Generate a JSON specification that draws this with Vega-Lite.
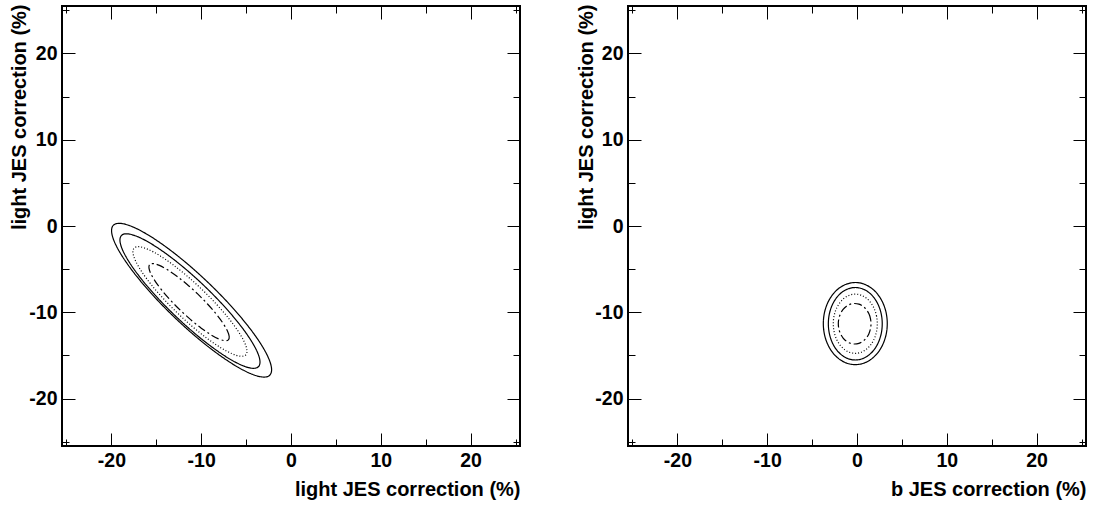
{
"$schema": "https://vega.github.io/schema/vega-lite/v6.json",
"background": "white",
"padding": {"left": 7, "top": 3, "right": 0, "bottom": 0},
"autosize": {"type": "pad"},
"bounds": "flush",
"spacing": 108,
"config": {
  "view": {"stroke": "black", "strokeWidth": 2},
  "axis": {
    "domain": false, "grid": false, "tickColor": "black", "tickWidth": 1,
    "values": [-24,-22,-20,-18,-16,-14,-12,-10,-8,-6,-4,-2,0,2,4,6,8,10,12,14,16,18,20,22,24],
    "tickSize": {"condition": {"test": "datum.value % 10 === 0", "value": -13}, "value": -7},
    "labelExpr": "datum.value % 10 === 0 ? '' + datum.value : ''",
    "labelFont": "Liberation Sans", "labelFontSize": 19.5, "labelFontWeight": "bold", "labelColor": "black",
    "titleFont": "Liberation Sans", "titleFontSize": 20, "titleFontWeight": "bold", "titleColor": "black"
  }
},
"datasets": {
"left": [
{"c":"c1","i":0,"x":-2.373,"y":-17.297},{"c":"c1","i":1,"x":-2.167,"y":-16.497},{"c":"c1","i":2,"x":-2.566,"y":-15.16},{"c":"c1","i":3,"x":-3.545,"y":-13.375},{"c":"c1","i":4,"x":-5.038,"y":-11.265},{"c":"c1","i":5,"x":-6.94,"y":-8.972},{"c":"c1","i":6,"x":-9.125,"y":-6.655},{"c":"c1","i":7,"x":-11.442,"y":-4.47},{"c":"c1","i":8,"x":-13.735,"y":-2.568},{"c":"c1","i":9,"x":-15.845,"y":-1.075},{"c":"c1","i":10,"x":-17.63,"y":-0.096},{"c":"c1","i":11,"x":-18.967,"y":0.303},{"c":"c1","i":12,"x":-19.767,"y":0.097},{"c":"c1","i":13,"x":-19.973,"y":-0.703},{"c":"c1","i":14,"x":-19.575,"y":-2.041},{"c":"c1","i":15,"x":-18.595,"y":-3.825},{"c":"c1","i":16,"x":-17.103,"y":-5.936},{"c":"c1","i":17,"x":-15.2,"y":-8.228},{"c":"c1","i":18,"x":-13.015,"y":-10.545},{"c":"c1","i":19,"x":-10.698,"y":-12.73},{"c":"c1","i":20,"x":-8.406,"y":-14.633},{"c":"c1","i":21,"x":-6.295,"y":-16.125},{"c":"c1","i":22,"x":-4.511,"y":-17.105},{"c":"c1","i":23,"x":-3.173,"y":-17.503},
{"c":"c2","i":0,"x":-3.634,"y":-16.316},{"c":"c2","i":1,"x":-3.46,"y":-15.622},{"c":"c2","i":2,"x":-3.816,"y":-14.458},{"c":"c2","i":3,"x":-4.68,"y":-12.9},{"c":"c2","i":4,"x":-5.991,"y":-11.057},{"c":"c2","i":5,"x":-7.66,"y":-9.052},{"c":"c2","i":6,"x":-9.574,"y":-7.024},{"c":"c2","i":7,"x":-11.602,"y":-5.11},{"c":"c2","i":8,"x":-13.607,"y":-3.441},{"c":"c2","i":9,"x":-15.45,"y":-2.13},{"c":"c2","i":10,"x":-17.008,"y":-1.266},{"c":"c2","i":11,"x":-18.172,"y":-0.91},{"c":"c2","i":12,"x":-18.866,"y":-1.084},{"c":"c2","i":13,"x":-19.04,"y":-1.778},{"c":"c2","i":14,"x":-18.684,"y":-2.942},{"c":"c2","i":15,"x":-17.82,"y":-4.5},{"c":"c2","i":16,"x":-16.509,"y":-6.343},{"c":"c2","i":17,"x":-14.84,"y":-8.348},{"c":"c2","i":18,"x":-12.926,"y":-10.376},{"c":"c2","i":19,"x":-10.898,"y":-12.29},{"c":"c2","i":20,"x":-8.893,"y":-13.959},{"c":"c2","i":21,"x":-7.05,"y":-15.27},{"c":"c2","i":22,"x":-5.492,"y":-16.134},{"c":"c2","i":23,"x":-4.328,"y":-16.49},
{"c":"c3","i":0,"x":-5.049,"y":-14.951},{"c":"c3","i":1,"x":-4.907,"y":-14.387},{"c":"c3","i":2,"x":-5.198,"y":-13.438},{"c":"c3","i":3,"x":-5.9,"y":-12.17},{"c":"c3","i":4,"x":-6.968,"y":-10.669},{"c":"c3","i":5,"x":-8.327,"y":-9.037},{"c":"c3","i":6,"x":-9.885,"y":-7.385},{"c":"c3","i":7,"x":-11.537,"y":-5.827},{"c":"c3","i":8,"x":-13.169,"y":-4.468},{"c":"c3","i":9,"x":-14.67,"y":-3.4},{"c":"c3","i":10,"x":-15.938,"y":-2.698},{"c":"c3","i":11,"x":-16.887,"y":-2.407},{"c":"c3","i":12,"x":-17.451,"y":-2.549},{"c":"c3","i":13,"x":-17.593,"y":-3.113},{"c":"c3","i":14,"x":-17.303,"y":-4.063},{"c":"c3","i":15,"x":-16.6,"y":-5.33},{"c":"c3","i":16,"x":-15.533,"y":-6.832},{"c":"c3","i":17,"x":-14.173,"y":-8.463},{"c":"c3","i":18,"x":-12.615,"y":-10.115},{"c":"c3","i":19,"x":-10.963,"y":-11.673},{"c":"c3","i":20,"x":-9.332,"y":-13.033},{"c":"c3","i":21,"x":-7.83,"y":-14.1},{"c":"c3","i":22,"x":-6.563,"y":-14.803},{"c":"c3","i":23,"x":-5.613,"y":-15.093},
{"c":"c4","i":0,"x":-6.98,"y":-13.2},{"c":"c4","i":1,"x":-6.882,"y":-12.804},{"c":"c4","i":2,"x":-7.089,"y":-12.137},{"c":"c4","i":3,"x":-7.585,"y":-11.245},{"c":"c4","i":4,"x":-8.338,"y":-10.188},{"c":"c4","i":5,"x":-9.297,"y":-9.039},{"c":"c4","i":6,"x":-10.395,"y":-7.875},{"c":"c4","i":7,"x":-11.559,"y":-6.777},{"c":"c4","i":8,"x":-12.708,"y":-5.818},{"c":"c4","i":9,"x":-13.765,"y":-5.065},{"c":"c4","i":10,"x":-14.657,"y":-4.569},{"c":"c4","i":11,"x":-15.324,"y":-4.362},{"c":"c4","i":12,"x":-15.72,"y":-4.46},{"c":"c4","i":13,"x":-15.818,"y":-4.856},{"c":"c4","i":14,"x":-15.612,"y":-5.524},{"c":"c4","i":15,"x":-15.115,"y":-6.415},{"c":"c4","i":16,"x":-14.362,"y":-7.472},{"c":"c4","i":17,"x":-13.403,"y":-8.621},{"c":"c4","i":18,"x":-12.305,"y":-9.785},{"c":"c4","i":19,"x":-11.141,"y":-10.883},{"c":"c4","i":20,"x":-9.992,"y":-11.842},{"c":"c4","i":21,"x":-8.935,"y":-12.595},{"c":"c4","i":22,"x":-8.044,"y":-13.092},{"c":"c4","i":23,"x":-7.376,"y":-13.298}
],
"right": [
{"c":"c1","i":0,"x":3.37,"y":-11.31},{"c":"c1","i":1,"x":3.249,"y":-10.078},{"c":"c1","i":2,"x":2.893,"y":-8.93},{"c":"c1","i":3,"x":2.327,"y":-7.944},{"c":"c1","i":4,"x":1.59,"y":-7.188},{"c":"c1","i":5,"x":0.731,"y":-6.712},{"c":"c1","i":6,"x":-0.19,"y":-6.55},{"c":"c1","i":7,"x":-1.111,"y":-6.712},{"c":"c1","i":8,"x":-1.97,"y":-7.188},{"c":"c1","i":9,"x":-2.707,"y":-7.944},{"c":"c1","i":10,"x":-3.273,"y":-8.93},{"c":"c1","i":11,"x":-3.629,"y":-10.078},{"c":"c1","i":12,"x":-3.75,"y":-11.31},{"c":"c1","i":13,"x":-3.629,"y":-12.542},{"c":"c1","i":14,"x":-3.273,"y":-13.69},{"c":"c1","i":15,"x":-2.707,"y":-14.676},{"c":"c1","i":16,"x":-1.97,"y":-15.432},{"c":"c1","i":17,"x":-1.111,"y":-15.908},{"c":"c1","i":18,"x":-0.19,"y":-16.07},{"c":"c1","i":19,"x":0.731,"y":-15.908},{"c":"c1","i":20,"x":1.59,"y":-15.432},{"c":"c1","i":21,"x":2.327,"y":-14.676},{"c":"c1","i":22,"x":2.893,"y":-13.69},{"c":"c1","i":23,"x":3.249,"y":-12.542},
{"c":"c2","i":0,"x":2.81,"y":-11.33},{"c":"c2","i":1,"x":2.708,"y":-10.243},{"c":"c2","i":2,"x":2.408,"y":-9.23},{"c":"c2","i":3,"x":1.931,"y":-8.36},{"c":"c2","i":4,"x":1.31,"y":-7.693},{"c":"c2","i":5,"x":0.586,"y":-7.273},{"c":"c2","i":6,"x":-0.19,"y":-7.13},{"c":"c2","i":7,"x":-0.966,"y":-7.273},{"c":"c2","i":8,"x":-1.69,"y":-7.693},{"c":"c2","i":9,"x":-2.311,"y":-8.36},{"c":"c2","i":10,"x":-2.788,"y":-9.23},{"c":"c2","i":11,"x":-3.088,"y":-10.243},{"c":"c2","i":12,"x":-3.19,"y":-11.33},{"c":"c2","i":13,"x":-3.088,"y":-12.417},{"c":"c2","i":14,"x":-2.788,"y":-13.43},{"c":"c2","i":15,"x":-2.311,"y":-14.3},{"c":"c2","i":16,"x":-1.69,"y":-14.967},{"c":"c2","i":17,"x":-0.966,"y":-15.387},{"c":"c2","i":18,"x":-0.19,"y":-15.53},{"c":"c2","i":19,"x":0.586,"y":-15.387},{"c":"c2","i":20,"x":1.31,"y":-14.967},{"c":"c2","i":21,"x":1.931,"y":-14.3},{"c":"c2","i":22,"x":2.408,"y":-13.43},{"c":"c2","i":23,"x":2.708,"y":-12.417},
{"c":"c3","i":0,"x":2.26,"y":-11.33},{"c":"c3","i":1,"x":2.176,"y":-10.442},{"c":"c3","i":2,"x":1.932,"y":-9.615},{"c":"c3","i":3,"x":1.542,"y":-8.905},{"c":"c3","i":4,"x":1.035,"y":-8.36},{"c":"c3","i":5,"x":0.444,"y":-8.017},{"c":"c3","i":6,"x":-0.19,"y":-7.9},{"c":"c3","i":7,"x":-0.824,"y":-8.017},{"c":"c3","i":8,"x":-1.415,"y":-8.36},{"c":"c3","i":9,"x":-1.922,"y":-8.905},{"c":"c3","i":10,"x":-2.312,"y":-9.615},{"c":"c3","i":11,"x":-2.556,"y":-10.442},{"c":"c3","i":12,"x":-2.64,"y":-11.33},{"c":"c3","i":13,"x":-2.556,"y":-12.218},{"c":"c3","i":14,"x":-2.312,"y":-13.045},{"c":"c3","i":15,"x":-1.922,"y":-13.755},{"c":"c3","i":16,"x":-1.415,"y":-14.3},{"c":"c3","i":17,"x":-0.824,"y":-14.643},{"c":"c3","i":18,"x":-0.19,"y":-14.76},{"c":"c3","i":19,"x":0.444,"y":-14.643},{"c":"c3","i":20,"x":1.035,"y":-14.3},{"c":"c3","i":21,"x":1.542,"y":-13.755},{"c":"c3","i":22,"x":1.932,"y":-13.045},{"c":"c3","i":23,"x":2.176,"y":-12.218},
{"c":"c4","i":0,"x":1.56,"y":-11.33},{"c":"c4","i":1,"x":1.498,"y":-10.722},{"c":"c4","i":2,"x":1.316,"y":-10.155},{"c":"c4","i":3,"x":1.027,"y":-9.668},{"c":"c4","i":4,"x":0.65,"y":-9.295},{"c":"c4","i":5,"x":0.211,"y":-9.06},{"c":"c4","i":6,"x":-0.26,"y":-8.98},{"c":"c4","i":7,"x":-0.731,"y":-9.06},{"c":"c4","i":8,"x":-1.17,"y":-9.295},{"c":"c4","i":9,"x":-1.547,"y":-9.668},{"c":"c4","i":10,"x":-1.836,"y":-10.155},{"c":"c4","i":11,"x":-2.018,"y":-10.722},{"c":"c4","i":12,"x":-2.08,"y":-11.33},{"c":"c4","i":13,"x":-2.018,"y":-11.938},{"c":"c4","i":14,"x":-1.836,"y":-12.505},{"c":"c4","i":15,"x":-1.547,"y":-12.992},{"c":"c4","i":16,"x":-1.17,"y":-13.365},{"c":"c4","i":17,"x":-0.731,"y":-13.6},{"c":"c4","i":18,"x":-0.26,"y":-13.68},{"c":"c4","i":19,"x":0.211,"y":-13.6},{"c":"c4","i":20,"x":0.65,"y":-13.365},{"c":"c4","i":21,"x":1.027,"y":-12.992},{"c":"c4","i":22,"x":1.316,"y":-12.505},{"c":"c4","i":23,"x":1.498,"y":-11.938}
]
},
"hconcat": [
{
  "width": 458, "height": 440,
  "data": {"name": "left"},
  "resolve": {"axis": {"x": "independent", "y": "independent"}},
  "layer": [
    {
      "mark": {"type": "line", "color": "black", "strokeWidth": 1.2, "interpolate": "cardinal-closed"},
      "encoding": {
        "x": {"field": "x", "type": "quantitative", "scale": {"domain": [-25.5, 25.5], "nice": false, "zero": false},
              "axis": {"orient": "bottom", "title": "light JES correction (%)", "titleX": 458, "titleY": 49, "titleAlign": "right", "titleBaseline": "alphabetic", "labelPadding": 18}},
        "y": {"field": "y", "type": "quantitative", "scale": {"domain": [-25.5, 25.5], "nice": false, "zero": false},
              "axis": {"orient": "left", "title": "light JES correction (%)", "titleX": -37, "titleY": -2, "titleAngle": -90, "titleAlign": "right", "titleBaseline": "alphabetic", "labelPadding": 18}},
        "detail": {"field": "c"},
        "order": {"field": "i"},
        "strokeDash": {"field": "c", "type": "nominal", "legend": null,
          "scale": {"domain": ["c1","c2","c3","c4"], "range": [[1,0],[1,0],[1,2],[8,3,2,3]]}}
      }
    },
    {
      "mark": {"type": "point", "opacity": 0},
      "encoding": {
        "x": {"field": "x", "type": "quantitative", "axis": {"orient": "top", "labels": false, "title": null}},
        "y": {"field": "y", "type": "quantitative", "axis": {"orient": "right", "labels": false, "title": null}}
      }
    }
  ]
},
{
  "width": 458, "height": 440,
  "data": {"name": "right"},
  "resolve": {"axis": {"x": "independent", "y": "independent"}},
  "layer": [
    {
      "mark": {"type": "line", "color": "black", "strokeWidth": 1.2, "interpolate": "cardinal-closed"},
      "encoding": {
        "x": {"field": "x", "type": "quantitative", "scale": {"domain": [-25.5, 25.5], "nice": false, "zero": false},
              "axis": {"orient": "bottom", "title": "b JES correction (%)", "titleX": 458, "titleY": 49, "titleAlign": "right", "titleBaseline": "alphabetic", "labelPadding": 18}},
        "y": {"field": "y", "type": "quantitative", "scale": {"domain": [-25.5, 25.5], "nice": false, "zero": false},
              "axis": {"orient": "left", "title": "light JES correction (%)", "titleX": -36, "titleY": -2, "titleAngle": -90, "titleAlign": "right", "titleBaseline": "alphabetic", "labelPadding": 18}},
        "detail": {"field": "c"},
        "order": {"field": "i"},
        "strokeDash": {"field": "c", "type": "nominal", "legend": null,
          "scale": {"domain": ["c1","c2","c3","c4"], "range": [[1,0],[1,0],[1,2],[8,3,2,3]]}}
      }
    },
    {
      "mark": {"type": "point", "opacity": 0},
      "encoding": {
        "x": {"field": "x", "type": "quantitative", "axis": {"orient": "top", "labels": false, "title": null}},
        "y": {"field": "y", "type": "quantitative", "axis": {"orient": "right", "labels": false, "title": null}}
      }
    }
  ]
}
]
}
